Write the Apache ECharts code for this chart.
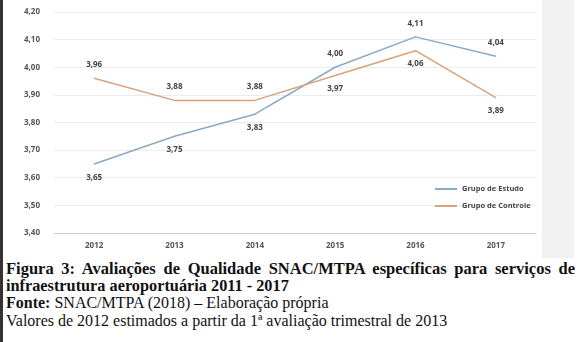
<!DOCTYPE html>
<html><head><meta charset="utf-8">
<script src="https://cdn.jsdelivr.net/npm/echarts@6/dist/echarts.min.js"></script>
<style>
html,body{margin:0;padding:0;background:#fff;}
#wrap{position:relative;width:579px;height:342px;overflow:hidden;background:#fff;}
#chart{position:absolute;left:0;top:0;width:579px;height:258px;}
#cap{position:absolute;left:6px;top:260px;width:569px;font-family:"Liberation Serif","DejaVu Serif",serif;font-size:16px;line-height:17.2px;color:#111;}
#cap .j{text-align:justify;text-align-last:justify;font-size:16.5px;white-space:nowrap;}
#cap .b2{font-size:16.3px;}
#leftbar{position:absolute;left:0;top:0;width:3px;height:342px;background:#333;}
#rightgray{position:absolute;left:542px;top:0;width:32px;height:258px;background:#f2f2f2;}
</style></head>
<body><div id="wrap">
<div id="rightgray"></div>
<div id="chart"></div>
<div id="leftbar"></div>
<div id="cap">
<div class="j"><b>Figura 3: Avaliações de Qualidade SNAC/MTPA específicas para serviços de</b></div>
<div class="b2"><b>infraestrutura aeroportuária 2011 - 2017</b></div>
<div><b>Fonte:</b> SNAC/MTPA (2018) – Elaboração própria</div>
<div>Valores de 2012 estimados a partir da 1ª avaliação trimestral de 2013</div>
</div>
</div>
<script>
var categories = ['2012','2013','2014','2015','2016','2017'];
var estudo = [3.65, 3.75, 3.83, 4.00, 4.11, 4.04];
var controle = [3.96, 3.88, 3.88, 3.97, 4.06, 3.89];
var estudoPos = ['bottom','bottom','bottom','top','top','top'];
var controlePos = ['top','top','top','bottom','bottom','bottom'];
var seriesNames = ['Grupo de Estudo','Grupo de Controle'];
var colors = ['#8aa9c6','#d9a27c'];

function fmt(v){ return v.toFixed(2).replace('.', ','); }
function mk(vals, pos){
  return vals.map(function(v,i){ return {value:v, label:{position:pos[i]}}; });
}
var lbl = {show:true, distance:9, fontSize:8, color:'#444', fontFamily:'Open Sans', fontWeight:'bold',
  formatter:function(p){return fmt(p.value);}};
var chart = echarts.init(document.getElementById('chart'), null, {renderer:'canvas'});
chart.setOption({
  backgroundColor:'transparent',
  animation:false,
  color:colors,
  grid:{left:54, right:43, top:12, bottom:25, containLabel:false},
  xAxis:{type:'category', data:categories, boundaryGap:true,
    axisLine:{lineStyle:{color:'#d0d0d0', width:1}}, axisTick:{show:false},
    axisLabel:{color:'#555', fontSize:8, fontFamily:'Open Sans', fontWeight:'bold', margin:9}},
  yAxis:{type:'value', min:3.4, max:4.2, interval:0.1,
    axisLine:{show:false}, axisTick:{show:false},
    splitLine:{lineStyle:{color:'#ececec', width:1}},
    axisLabel:{color:'#555', fontSize:8, fontFamily:'Open Sans', fontWeight:'bold', margin:14,
      formatter:function(v){return fmt(v);}}},
  legend:{orient:'vertical', left:430, top:180, itemWidth:22, itemHeight:2, itemGap:9,
    icon:'rect',
    textStyle:{color:'#444', fontSize:7.5, fontFamily:'Open Sans', fontWeight:'bold'},
    data:seriesNames},
  series:[
    {name:seriesNames[0], type:'line', data:mk(estudo, estudoPos), symbol:'circle', symbolSize:1, showSymbol:true,
     lineStyle:{color:colors[0], width:1.5}, itemStyle:{color:colors[0]},
     label:lbl},
    {name:seriesNames[1], type:'line', data:mk(controle, controlePos), symbol:'circle', symbolSize:1, showSymbol:true,
     lineStyle:{color:colors[1], width:1.5}, itemStyle:{color:colors[1]},
     label:lbl}
  ]
});
</script>
</body></html>
